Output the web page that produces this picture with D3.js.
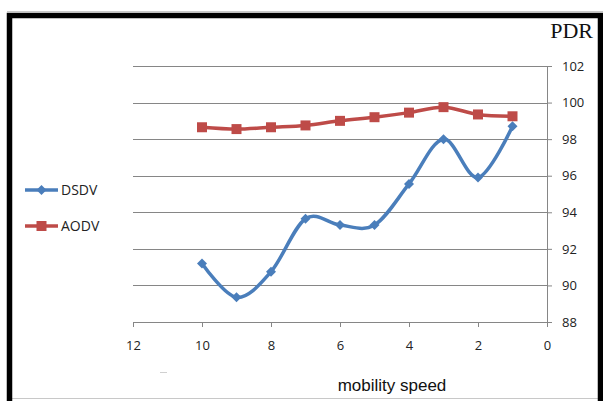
<!DOCTYPE html>
<html>
<head>
<meta charset="utf-8">
<script src="https://cdn.jsdelivr.net/npm/d3@7"></script>
<style>
  body { margin: 0; background: #fff; }
  .tick text { font-family: "Open Sans", "Liberation Sans", sans-serif; font-size: 13px; fill: #222; }
  .axis path, .axis line { stroke: #868686; }
</style>
</head>
<body>
<div id="chart"></div>
<script>
// Data
const speeds = [10, 9, 8, 7, 6, 5, 4, 3, 2, 1];
const dsdv = [91.2, 89.35, 90.75, 93.65, 93.3, 93.3, 95.55, 98.0, 95.9, 98.7];
const aodv = [98.65, 98.55, 98.65, 98.75, 99.0, 99.2, 99.45, 99.75, 99.35, 99.25];
const xTicks = [12, 10, 8, 6, 4, 2, 0];
const yTicks = [88, 90, 92, 94, 96, 98, 100, 102];

const W = 603, H = 401;
const plot = { left: 133, right: 547, top: 66, bottom: 322 };

const svg = d3.select("#chart").append("svg")
  .attr("width", W).attr("height", H);

// faint page ruler marks outside the frame
svg.append("line").attr("x1", 7).attr("x2", W).attr("y1", 11.5).attr("y2", 11.5)
  .attr("stroke", "#c8c8c8").attr("stroke-width", 1);
svg.append("line").attr("x1", 7).attr("x2", W).attr("y1", 398.5).attr("y2", 398.5)
  .attr("stroke", "#c8c8c8").attr("stroke-width", 1);
svg.append("line").attr("x1", 160).attr("x2", 167).attr("y1", 372.5).attr("y2", 372.5)
  .attr("stroke", "#d0d0d0").attr("stroke-width", 1);

// frame (top, left, right)
svg.append("path")
  .attr("d", "M9.5,401 L9.5,15.5 L600.5,15.5 L600.5,401")
  .attr("fill", "none").attr("stroke", "#000").attr("stroke-width", 5.5);

// Scales
const x = d3.scaleLinear().domain([12, 0]).range([plot.left, plot.right]);
const y = d3.scaleLinear().domain([88, 102]).range([plot.bottom, plot.top]);

// Gridlines
svg.append("g").selectAll("line")
  .data(yTicks)
  .join("line")
  .attr("x1", plot.left).attr("x2", plot.right)
  .attr("y1", d => Math.round(y(d)) + 0.5).attr("y2", d => Math.round(y(d)) + 0.5)
  .attr("stroke", "#868686").attr("stroke-width", 1);

// Axes
const xAxis = d3.axisBottom(x).tickValues(xTicks).tickSize(5).tickPadding(14).tickFormat(d3.format("d"));
svg.append("g")
  .attr("class", "axis")
  .attr("transform", "translate(0," + plot.bottom + ")")
  .call(xAxis)
  .call(g => g.select(".domain").attr("d", "M" + plot.left + ",0.5H" + plot.right));

const yAxis = d3.axisRight(y).tickValues(yTicks).tickSize(5).tickPadding(10);
svg.append("g")
  .attr("class", "axis")
  .attr("transform", "translate(" + plot.right + ",0)")
  .call(yAxis)
  .call(g => g.select(".domain").attr("d", "M0.5," + plot.top + "V" + plot.bottom))
  .call(g => g.selectAll(".tick text").attr("text-anchor", "start"));

// Lines
const line = d3.line()
  .x(d => x(d[0]))
  .y(d => y(d[1]))
  .curve(d3.curveCardinal.tension(0));

const series = [
  { name: "DSDV", values: dsdv, color: "#4a7ebb", marker: "diamond" },
  { name: "AODV", values: aodv, color: "#be4b48", marker: "square" }
];

series.forEach(function(s) {
  const pts = speeds.map((sp, i) => [sp, s.values[i]]);
  svg.append("path")
    .datum(pts)
    .attr("fill", "none")
    .attr("stroke", s.color)
    .attr("stroke-width", 3.5)
    .attr("d", line);
  svg.append("g").selectAll("path")
    .data(pts)
    .join("path")
    .attr("transform", d => "translate(" + x(d[0]) + "," + y(d[1]) + ")")
    .attr("d", s.marker === "diamond" ? "M0,-5L5,0L0,5L-5,0Z" : "M-5,-5H5V5H-5Z")
    .attr("fill", s.color);
});

// Legend
const legend = svg.append("g");
series.forEach(function(s, i) {
  const ly = 190 + i * 36;
  legend.append("line")
    .attr("x1", 25).attr("x2", 58).attr("y1", ly).attr("y2", ly)
    .attr("stroke", s.color).attr("stroke-width", 3.5);
  legend.append("path")
    .attr("transform", "translate(41.5," + ly + ")")
    .attr("d", s.marker === "diamond" ? "M0,-5L5,0L0,5L-5,0Z" : "M-5,-5H5V5H-5Z")
    .attr("fill", s.color);
  legend.append("text")
    .attr("x", 61).attr("y", ly + 5)
    .style("font-family", "'Open Sans', 'Liberation Sans', sans-serif")
    .style("font-size", "14px")
    .attr("fill", "#222")
    .text(s.name);
});

// Titles
svg.append("text")
  .attr("x", 593).attr("y", 38)
  .attr("text-anchor", "end")
  .style("font-family", "'Liberation Serif', 'Times New Roman', serif")
  .style("font-size", "22px")
  .attr("fill", "#111")
  .text("PDR");

svg.append("text")
  .attr("x", 392).attr("y", 391)
  .attr("text-anchor", "middle")
  .style("font-family", "'Liberation Sans Narrow', 'Liberation Sans', Arial, sans-serif")
  .style("font-size", "17px")
  .attr("fill", "#111")
  .text("mobility speed");
</script>
</body>
</html>
